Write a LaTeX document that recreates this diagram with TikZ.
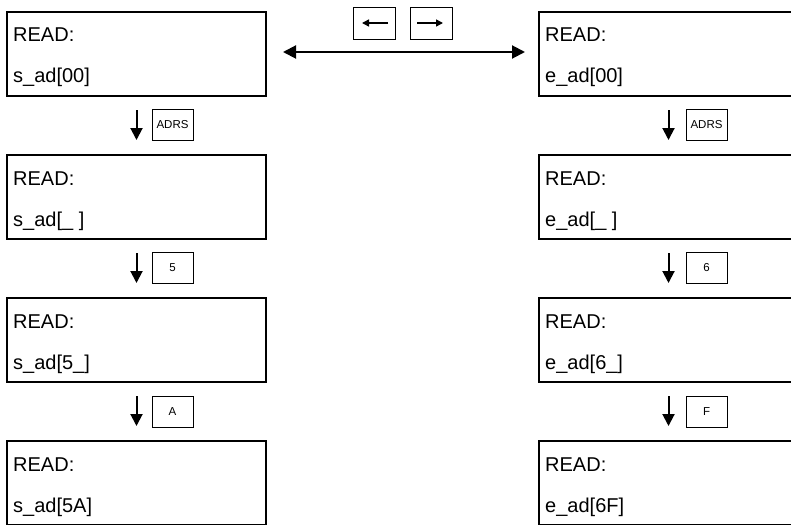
\documentclass[tikz,border=0pt]{standalone}
\usepackage{fontspec}
\setmainfont{Liberation Sans}
\usetikzlibrary{arrows.meta}
\begin{document}
\begin{tikzpicture}[x=1pt,y=-1pt,
  lcd/.style={draw,line width=2.5pt,minimum width=259pt,minimum height=84pt,inner sep=0pt},
  txt/.style={anchor=base west,inner sep=0pt,font=\fontsize{20}{24}\selectfont},
  key/.style={draw,line width=0.9pt,minimum width=41pt,minimum height=31pt,inner sep=0pt,font=\fontsize{11.5}{13}\selectfont},
  flow/.style={-{Triangle[width=12pt,length=12pt]},line width=2pt,shorten <=12.75pt,shorten >=13.75pt},
  ]
\useasboundingbox (0,0) rectangle (791,524);
\clip (0,0) rectangle (791,524);
% left column
\node[lcd] (L1) at (136.5,54) {};
\node[lcd] (L2) at (136.5,197) {};
\node[lcd] (L3) at (136.5,340) {};
\node[lcd] (L4) at (136.5,483) {};
% right column
\node[lcd] (R1) at (668.5,54) {};
\node[lcd] (R2) at (668.5,197) {};
\node[lcd] (R3) at (668.5,340) {};
\node[lcd] (R4) at (668.5,483) {};
% texts
\node[txt] (L1a) at (13,42) {READ:};
\node[txt] (L1b) at (13,83) {s\_ad[00]};
\node[txt] (L2a) at (13,185) {READ:};
\node[txt] (L2b) at (13,226) {s\_ad[\_ ]};
\node[txt] (L3a) at (13,328) {READ:};
\node[txt] (L3b) at (13,369) {s\_ad[5\_]};
\node[txt] (L4a) at (13,471) {READ:};
\node[txt] (L4b) at (13,512) {s\_ad[5A]};
\node[txt] (R1a) at (545,42) {READ:};
\node[txt] (R1b) at (545,83) {e\_ad[00]};
\node[txt] (R2a) at (545,185) {READ:};
\node[txt] (R2b) at (545,226) {e\_ad[\_ ]};
\node[txt] (R3a) at (545,328) {READ:};
\node[txt] (R3b) at (545,369) {e\_ad[6\_]};
\node[txt] (R4a) at (545,471) {READ:};
\node[txt] (R4b) at (545,512) {e\_ad[6F]};
% flow arrows
\draw[flow] (L1) -- (L2);
\draw[flow] (L2) -- (L3);
\draw[flow] (L3) -- (L4);
\draw[flow] (R1) -- (R2);
\draw[flow] (R2) -- (R3);
\draw[flow] (R3) -- (R4);
% keys
\node[key] (k1) at (172.5,125) {ADRS};
\node[key] (k2) at (172.5,268) {5};
\node[key] (k3) at (172.5,411.5) {A};
\node[key] (k4) at (706.5,125) {ADRS};
\node[key] (k5) at (706.5,268) {6};
\node[key] (k6) at (706.5,411.5) {F};
% top keys
\node[key,minimum width=42pt,minimum height=32pt] (kl) at (374,23) {};
\node[key,minimum width=42pt,minimum height=32pt] (kr) at (431,23) {};
\draw[-{Triangle[width=7pt,length=7pt]},line width=1.5pt] ([xshift=14pt]kl.center) -- ([xshift=-12pt]kl.center);
\draw[-{Triangle[width=7pt,length=7pt]},line width=1.5pt] ([xshift=-14pt]kr.center) -- ([xshift=12pt]kr.center);
% double arrow
\draw[{Triangle[width=13pt,length=13pt]}-{Triangle[width=13pt,length=13pt]},line width=2pt,shorten <=15.75pt,shorten >=12.75pt] ([yshift=2pt]L1.east) -- ([yshift=2pt]R1.west);
\end{tikzpicture}
\end{document}
